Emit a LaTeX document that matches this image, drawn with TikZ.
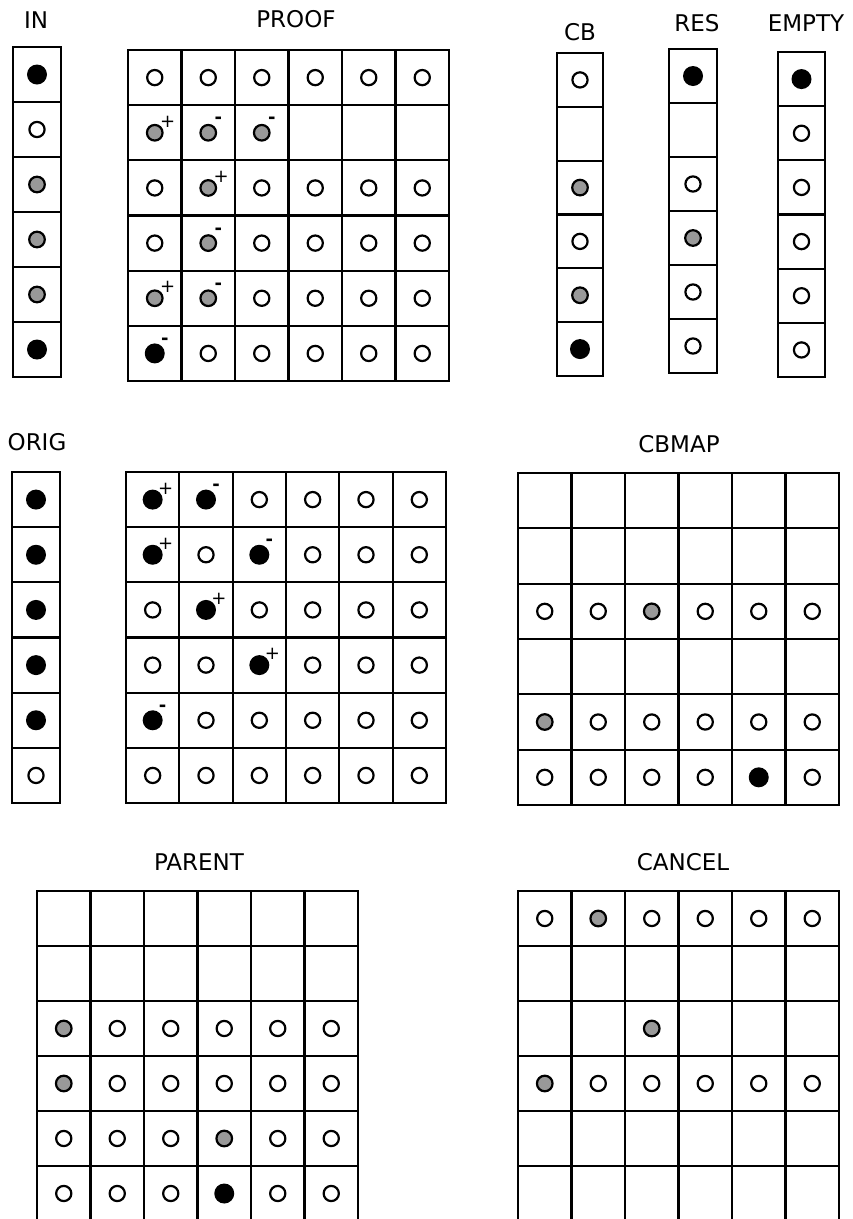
\documentclass[tikz,border=0pt]{standalone}
\usepackage{fontspec}
\setmainfont{DejaVu Sans}

\tikzset{
  title/.style={inner sep=0pt, font=\fontsize{23}{26}\selectfont},
  gridline/.style={line width=2.2pt, line cap=rect},
  dotopen/.style={draw, line width=2.2pt, fill=white},
  dotgray/.style={draw, line width=2.2pt, fill=black!40},
  dotblack/.style={fill=black},
  plussign/.style={inner sep=0pt, font=\fontsize{18}{18}\selectfont},
  minussign/.style={inner sep=0pt, font=\fontsize{18}{18}\selectfont\bfseries},
}

% grid lines of cols x rows cells, cell size \cw x \ch
\newcommand{\cellgrid}[2]{%
  \foreach \k in {0,...,#1} \draw[gridline] ({\k*\cw},0) -- ({\k*\cw},{#2*\ch});
  \foreach \k in {0,...,#2} \draw[gridline] (0,{\k*\ch}) -- ({#1*\cw},{\k*\ch});}

% marks: n none, o open, g gray, b black, p/m sign
\newcommand{\mkn}{}
\newcommand{\mko}{\draw[dotopen] (\cx,\cy) circle (7.6pt);}
\newcommand{\mkg}{\draw[dotgray] (\cx,\cy) circle (7.8pt);}
\newcommand{\mkb}{\fill[dotblack] (\cx,\cy) circle (10pt);}
\newcommand{\mkp}{\node[plussign] (\gname-\i-\rw) at ({\cx+13},{\cy-11}) {+};}
\newcommand{\mkm}{\node[minussign] (\gname-\i-\rw) at ({\cx+10},{\cy-12}) {-};}
\newcommand{\mkgp}{\mkg\mkp}
\newcommand{\mkgm}{\mkg\mkm}
\newcommand{\mkbp}{\mkb\mkp}
\newcommand{\mkbm}{\mkb\mkm}

\newcommand{\cellrow}[2]{%
  \def\rw{#1}%
  \foreach \kind [count=\i] in {#2} {%
    \pgfmathsetmacro\cx{(\i-.5)*\cw}%
    \pgfmathsetmacro\cy{(#1-.5)*\ch}%
    \csname mk\kind\endcsname}}

\newcommand{\cellcol}[1]{%
  \foreach \kind [count=\rw] in {#1} {%
    \def\i{1}%
    \pgfmathsetmacro\cx{.5*\cw}%
    \pgfmathsetmacro\cy{(\rw-.5)*\ch}%
    \csname mk\kind\endcsname}}

\begin{document}
\begin{tikzpicture}[x=1pt, y=-1pt]

    \useasboundingbox (0,0) rectangle (852,1219);

    % Titles
    \node[title] (tin) at (36,20) {IN};
    \node[title] (tproof) at (296,19) {PROOF};
    \node[title] (tcb) at (580,32) {CB};
    \node[title] (tres) at (697,23) {RES};
    \node[title] (tempty) at (806,23) {EMPTY};
    \node[title] (torig) at (37,442) {ORIG};
    \node[title] (tcbmap) at (679,444) {CBMAP};
    \node[title] (tparent) at (199,862) {PARENT};
    \node[title] (tcancel) at (683,862) {CANCEL};

    % IN
    \begin{scope}[shift={(13,47)}]
      \def\cw{48}\def\ch{55}\def\gname{in}
      \cellgrid{1}{6}
      \cellcol{b,o,g,g,g,b}
    \end{scope}

    % PROOF
    \begin{scope}[shift={(128,50)}]
      \def\cw{53.5}\def\ch{55.17}\def\gname{proof}
      \cellgrid{6}{6}
      \cellrow{1}{o,o,o,o,o,o}
      \cellrow{2}{gp,gm,gm,n,n,n}
      \cellrow{3}{o,gp,o,o,o,o}
      \cellrow{4}{o,gm,o,o,o,o}
      \cellrow{5}{gp,gm,o,o,o,o}
      \cellrow{6}{bm,o,o,o,o,o}
    \end{scope}

    % CB
    \begin{scope}[shift={(557,53)}]
      \def\cw{46}\def\ch{53.83}\def\gname{cb}
      \cellgrid{1}{6}
      \cellcol{o,n,g,o,g,b}
    \end{scope}

    % RES
    \begin{scope}[shift={(669,49)}]
      \def\cw{48}\def\ch{54}\def\gname{res}
      \cellgrid{1}{6}
      \cellcol{b,n,o,g,o,o}
    \end{scope}

    % EMPTY
    \begin{scope}[shift={(778,52)}]
      \def\cw{47}\def\ch{54.17}\def\gname{empty}
      \cellgrid{1}{6}
      \cellcol{b,o,o,o,o,o}
    \end{scope}

    % ORIG
    \begin{scope}[shift={(12,472)}]
      \def\cw{48}\def\ch{55.17}\def\gname{orig}
      \cellgrid{1}{6}
      \cellcol{b,b,b,b,b,o}
    \end{scope}

    % Untitled map
    \begin{scope}[shift={(126,472)}]
      \def\cw{53.33}\def\ch{55.17}\def\gname{map}
      \cellgrid{6}{6}
      \cellrow{1}{bp,bm,o,o,o,o}
      \cellrow{2}{bp,o,bm,o,o,o}
      \cellrow{3}{o,bp,o,o,o,o}
      \cellrow{4}{o,o,bp,o,o,o}
      \cellrow{5}{bm,o,o,o,o,o}
      \cellrow{6}{o,o,o,o,o,o}
    \end{scope}

    % CBMAP
    \begin{scope}[shift={(518,473)}]
      \def\cw{53.5}\def\ch{55.33}\def\gname{cbmap}
      \cellgrid{6}{6}
      \cellrow{3}{o,o,g,o,o,o}
      \cellrow{5}{g,o,o,o,o,o}
      \cellrow{6}{o,o,o,o,b,o}
    \end{scope}

    % PARENT
    \begin{scope}[shift={(37,891)}]
      \def\cw{53.5}\def\ch{55}\def\gname{parent}
      \cellgrid{6}{6}
      \cellrow{3}{g,o,o,o,o,o}
      \cellrow{4}{g,o,o,o,o,o}
      \cellrow{5}{o,o,o,g,o,o}
      \cellrow{6}{o,o,o,b,o,o}
    \end{scope}

    % CANCEL
    \begin{scope}[shift={(518,891)}]
      \def\cw{53.5}\def\ch{55}\def\gname{cancel}
      \cellgrid{6}{6}
      \cellrow{1}{o,g,o,o,o,o}
      \cellrow{3}{n,n,g,n,n,n}
      \cellrow{4}{g,o,o,o,o,o}
    \end{scope}

\end{tikzpicture}
\end{document}
